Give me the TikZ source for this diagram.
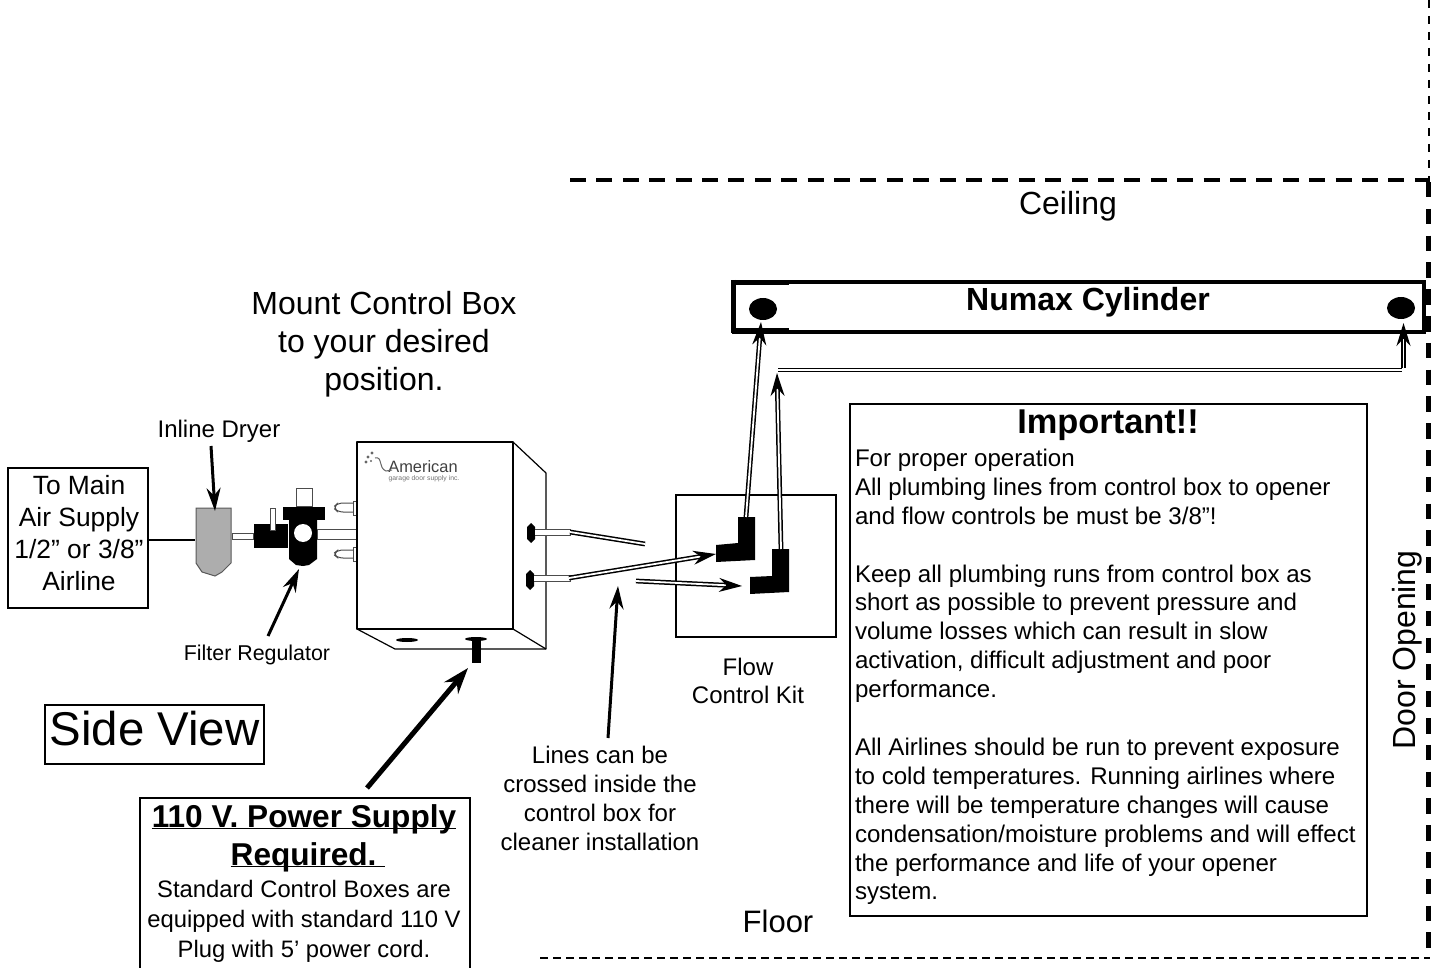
\documentclass[tikz,border=0pt]{standalone}
\usepackage{fontspec}
\setmainfont{Liberation Sans}
\usetikzlibrary{arrows.meta,shapes.geometric}
\newcommand{\fsz}[2]{\fontsize{#1}{#2}\selectfont}
\newcommand{\ulbox}[1]{\setbox0\hbox{#1}\rlap{\rule[-1.2pt]{\wd0}{.55pt}}\box0}
\tikzset{
  every node/.style={outer sep=0pt},
  txt/.style={inner sep=0pt,align=center},
  boxa/.style={draw=black,line width=1.25pt,fill=none},
  dbl/.style={draw=black,line width=.75pt,double=white,double distance=.9pt},
  dtip/.style={-{Stealth[length=11.5pt,width=7pt]}},
  solidarrow/.style={draw=black,line width=#1,-{Stealth[length=11.5pt,width=7pt]}},
  bigarrow/.style={draw=black,line width=2.5pt,-{Stealth[length=13pt,width=9pt]}},
  blk/.style={fill=black,draw=none},
  part/.style={fill=white,draw=black!70,line width=.5pt},
  heavydash/.style={line width=2.4pt,dash pattern=on 8pt off 5.2pt},
  lightdash/.style={line width=1.2pt,dash pattern=on 4pt off 2.5pt},
}
\begin{document}
\begin{tikzpicture}[x=.5pt,y=-.5pt]
\useasboundingbox (0,0) rectangle (1440,968);
\fill[white] (0,0) rectangle (1440,968);

% outline of the space
\draw[heavydash] (570,180) -- (1430,180);
\draw[line width=2.5pt,dash pattern=on 7.75pt off 5.65pt] (1428,182) -- (1428,958);
\draw[line width=1.2pt,dash pattern=on 4pt off 4pt] (1429,0) -- (1429,181);
\draw[lightdash] (540,958) -- (1430,958);

\node[txt,font=\fsz{16}{20}] (ceiling) at (1068,206) {Ceiling};
\node[txt,font=\fsz{15.5}{19}] (floor) at (778,921) {Floor};
\node[txt,rotate=90,font=\fsz{16}{19}] (door) at (1407,650) {Door Opening};

% cylinder
\node[draw=black,line width=2pt,minimum width=345pt,minimum height=24.75pt,inner sep=0pt,anchor=north west] (cyl) at (733.5,282) {};
\draw[line width=2.5pt] (733.5,282.5) -- (789,282.5);
\draw[line width=2.5pt] (733.5,280) -- (733.5,333);
\draw[line width=2.2pt] (733.5,330.5) -- (789,330.5);
\node[txt,font=\fsz{16}{18}] (numax) at (1088,302) {\textbf{Numax Cylinder}};
\node[blk,ellipse,minimum width=14pt,minimum height=11pt,inner sep=0pt] (portl) at (763,309) {};
\node[blk,ellipse,minimum width=14pt,minimum height=11pt,inner sep=0pt] (portr) at (1401,308) {};

% important box
\node[boxa,minimum width=258.5pt,minimum height=256pt,inner sep=0pt,anchor=north west] (imp) at (850,404) {};
\node[txt,font=\fsz{17.2}{20}] (imptitle) at (1108,425) {\textbf{Important!!}};
\node[txt,align=left,anchor=north west,font=\fsz{12.05}{14.45}] (imptext) at (855,449) {For proper operation\\
All plumbing lines from control box to opener\\
and flow controls be must be 3/8”!\\
\mbox{}\\
Keep all plumbing runs from control box as\\
short as possible to prevent pressure and\\
volume losses which can result in slow\\
activation, difficult adjustment and poor\\
performance.\\
\mbox{}\\
All Airlines should be run to prevent exposure\\
to cold temperatures. Running airlines where\\
there will be temperature changes will cause\\
condensation/moisture problems and will effect\\
the performance and life of your opener\\
system.};

% left labels
\node[boxa,minimum width=70pt,minimum height=70pt,inner sep=0pt,anchor=north west] (supply) at (8,468) {};
\node[txt,font=\fsz{13.2}{16}] (supplytext) at (79,533) {To Main\\Air Supply\\1/2” or 3/8”\\Airline};
\node[txt,font=\fsz{12}{13}] (dryerlabel) at (219,431) {Inline Dryer};
\node[txt,font=\fsz{10.7}{12}] (reglabel) at (257,655) {Filter Regulator};
\node[txt,font=\fsz{16}{19}] (mount) at (384,344) {Mount Control Box\\to your desired\\position.};
\node[boxa,line width=.9pt,minimum width=109.5pt,minimum height=29.5pt,inner sep=0pt,anchor=north west] (side) at (45,705) {};
\node[txt,font=\fsz{23.7}{29}] (sidetext) at (154.5,729) {Side View};

% power box
\node[boxa,minimum width=165pt,minimum height=86pt,inner sep=0pt,anchor=north west] (power) at (140,798) {};
\node[txt,anchor=base,font=\fsz{15.8}{18}] (powertitle) at (304,827) {\ulbox{\textbf{110 V. Power Supply}}};
\node[txt,anchor=base,font=\fsz{15.8}{18}] (powertitleb) at (308,865) {\ulbox{\textbf{Required.\ }}};
\node[txt,font=\fsz{11.9}{15}] (powertext) at (304,921) {Standard Control Boxes are\\equipped with standard 110 V\\Plug with 5’ power cord.};

% inline dryer and filter regulator
\coordinate (supplyout) at (148,540);
\coordinate (dryerin) at (195,540);
\draw[line width=1.25pt] (supplyout) -- (dryerin);
\fill[black!32] (196,508) -- (231,508) -- (231,563) -- (222,572) -- (215,576) -- (202,572) -- (196,563) -- cycle;
\draw[black!65,line width=.5pt] (196,508) -- (231,508) -- (231,563) -- (222,572) -- (215,576) -- (202,572) -- (196,563) -- cycle;
\draw[part] (232,533) rectangle (253,539);
\fill[black] (254,524) rectangle (288,548);
\draw[part] (270,508) rectangle (275,530);
\draw[part] (296,488) rectangle (312,506);
\fill[black] (283,507) rectangle (325,520);
\fill[black] (289,520) -- (317,520) -- (317,559) -- (309,565) -- (303,566) -- (296,565) -- (289,559) -- cycle;
\fill[white] (303,533) circle[radius=4.5pt];
\draw[part] (317,529) rectangle (357,539);
\draw[part,rounded corners=2.5pt] (353,503) -- (338,503) -- (333,507.5) -- (338,512) -- (353,512);
\draw[part] (353,501) rectangle (357,515);
\draw[part,rounded corners=2.5pt] (353,550) -- (338,550) -- (333,554) -- (338,558) -- (353,558);
\draw[part] (353,547) rectangle (357,561);

% control box
\draw[line width=.6pt,line join=round] (357,442) rectangle (513,629);
\draw[line width=.6pt,line join=round] (513,442) -- (546,473) -- (546,649) -- (395,649) -- (357,629);
\draw[line width=.6pt] (513,629) -- (546,649);
\node[inner sep=0pt,text=black!75,font=\fsz{8.2}{9}] (logo) at (423,467) {American};
\node[inner sep=0pt,text=black!55,font=\fsz{3.4}{4}] (logosub) at (424,479) {garage door supply inc.};
\fill[black!60] (368,457) circle[radius=.8pt] (372,453) circle[radius=.8pt] (366,462) circle[radius=.8pt] (371,461) circle[radius=.6pt];
\draw[black!60,line width=.5pt] (375,458) .. controls (383,456) and (378,468) .. (386,471) -- (392,470);
\fill[black] (407,640) ellipse[x radius=5.5pt,y radius=1pt];
\fill[black] (476,639) ellipse[x radius=5.5pt,y radius=1pt];
\fill[black] (472,640) rectangle (481,663);

% fittings on the side of the box
\fill[black] (531,523) -- (535,527) -- (535,539) -- (531,543) -- (527,539) -- (527,527) -- cycle;
\fill[black] (530,570) -- (534,574) -- (534,586) -- (530,590) -- (526,586) -- (526,574) -- cycle;
\draw[part] (535,529) -- (570,529) -- (570,535) -- (535,535);
\draw[part] (534,575) -- (570,575) -- (570,581.5) -- (534,581.5);

% flow control kit
\node[draw=black,line width=1.3pt,minimum width=80pt,minimum height=71pt,inner sep=0pt,anchor=north west] (flow) at (676,495) {};
\node[txt,font=\fsz{12}{14}] (flowtext) at (748,681) {Flow\\Control Kit};
\fill[black] (738,517) -- (755,517) -- (755,560) -- (716,562) -- (716,545) -- (738,543) -- cycle;
\fill[black] (772,549) -- (789,549) -- (789,592) -- (750,594) -- (750,577) -- (772,576) -- cycle;

% air lines
\coordinate (aa) at (570,532);
\coordinate (ab) at (645,544);
\coordinate (ba) at (569,578);
\coordinate (bb) at (716,554);
\coordinate (ca) at (636,581);
\coordinate (cb) at (742,586);
\coordinate (da) at (746,517);
\coordinate (db) at (761,322);
\coordinate (ea) at (781,549);
\coordinate (eb) at (777,373);
\coordinate (fa) at (778,370);
\coordinate (fb) at (1402,370);
\coordinate (fc) at (1403.5,368);
\coordinate (fd) at (1403.5,323);
\draw[dbl] (aa) -- (ab);
\draw[dbl,dtip] (ba) -- (bb);
\draw[dbl,dtip] (ca) -- (cb);
\draw[dbl,dtip] (da) -- (db);
\draw[dbl,dtip] (ea) -- (eb);
\draw[dbl] (fa) -- (fb);
\draw[dbl,dtip] (fc) -- (fd);

% pointers
\coordinate (p1a) at (211,446);
\coordinate (p1b) at (215,511);
\coordinate (p2a) at (268,636);
\coordinate (p2b) at (299,569);
\coordinate (p3a) at (367,788);
\coordinate (p3b) at (468,668);
\coordinate (p4a) at (608,738);
\coordinate (p4b) at (618,586);
\draw[solidarrow=1.5pt] (p1a) -- (p1b);
\draw[solidarrow=1.5pt] (p2a) -- (p2b);
\draw[bigarrow] (p3a) -- (p3b);
\draw[solidarrow=1.5pt] (p4a) -- (p4b);

% lines text
\node[txt,font=\fsz{12}{14.5}] (linestext) at (600,798.5) {Lines can be\\crossed inside the\\control box for\\cleaner installation};
\end{tikzpicture}
\end{document}
